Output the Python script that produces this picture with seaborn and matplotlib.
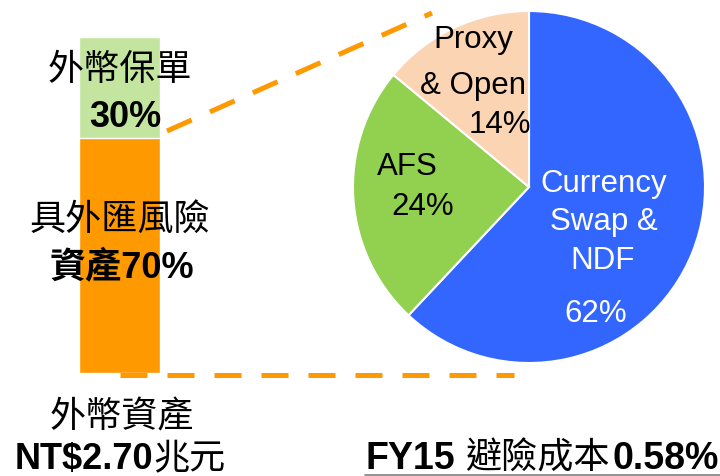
import matplotlib
matplotlib.use('Agg')
import matplotlib.pyplot as plt
import numpy as np
import seaborn as sns

# 資料
bar_category = ['外幣資產']
bar_parts = ['具外匯風險資產', '外幣保單']
bar_shares = [70, 30]
bar_colors = ['#FF9900', '#C3E59F']

pie_parts = ['Currency Swap & NDF', 'AFS', 'Proxy & Open']
pie_shares = [62, 24, 14]
pie_colors = ['#3366FF', '#92D050', '#FBD4B4']

W, H = 720, 477
FAMILY = ['Liberation Sans', 'Noto Sans CJK TC', 'DejaVu Sans']


def put(fig, x, y, s, size=26, weight='normal', color='black', ha='center'):
    # 以像素座標放置文字（y 為基線）
    fig.text(x / W, 1 - y / H, s, fontsize=size, fontweight=weight,
             color=color, ha=ha, va='baseline', family=FAMILY)


def draw_bar(fig):
    ax = fig.add_axes([68.9 / W, (H - 373.5) / H, 101.25 / W, 335.5 / H])
    tops = np.cumsum(bar_shares)
    # 由上往下疊，先畫總高度
    for top, color in list(zip(tops, bar_colors))[::-1]:
        sns.barplot(x=bar_category, y=[top], color=color, saturation=1,
                    width=0.8, edgecolor='white', linewidth=1, ax=ax)
    ax.set_xlim(-0.5, 0.5)
    ax.set_ylim(0, tops[-1])
    ax.axis('off')
    return ax


def draw_pie(fig):
    ax = fig.add_axes([353 / W, (H - 364) / H, 352 / W, 352 / H])
    ax.pie(pie_shares, colors=pie_colors, startangle=90, counterclock=False,
           wedgeprops={'edgecolor': 'white', 'linewidth': 1.5})
    ax.set_xlim(-1, 1)
    ax.set_ylim(-1, 1)
    ax.axis('off')
    return ax


def main():
    sns.set_theme(style='white')
    plt.rcParams['font.family'] = FAMILY
    fig = plt.figure(figsize=(W / 100, H / 100), dpi=100)

    # 背景層：虛線連接線
    bg = fig.add_axes([0, 0, 1, 1])
    bg.set_xlim(0, W)
    bg.set_ylim(H, 0)
    bg.axis('off')
    dash = dict(color='#FF9900', lw=3.6, dashes=(5.4, 4), solid_capstyle='butt',
                dash_capstyle='butt')
    bg.plot([167, 432], [132, 14], **dash)
    bg.plot([120, 514], [376, 376], **dash)
    bg.plot([365, 720], [476, 476], color='#808080', lw=1.2)

    draw_bar(fig)
    draw_pie(fig)

    # 長條圖標籤
    put(fig, 120, 80, '外幣保單')
    put(fig, 125, 127, f'{bar_shares[1]}%', weight='bold')
    put(fig, 120, 230, '具外匯風險')
    put(fig, 122, 278, f'資產{bar_shares[0]}%', weight='bold')
    put(fig, 122, 427, '外幣資產')
    put(fig, 153, 469, 'NT$2.70', weight='bold', ha='right')
    put(fig, 153, 469, '兆元', ha='left')

    # 圓餅圖標籤
    put(fig, 604, 192, 'Currency', size=22.5, color='white')
    put(fig, 604, 230, 'Swap &', size=22.5, color='white')
    put(fig, 603, 269, 'NDF', size=22.5, color='white')
    put(fig, 596, 322, f'{pie_shares[0]}%', size=22.5, color='white')
    put(fig, 407, 175, 'AFS', size=22.5)
    put(fig, 423, 215, f'{pie_shares[1]}%', size=22.5)
    put(fig, 473, 48, 'Proxy', size=22.5)
    put(fig, 473, 94, '& Open', size=22.5)
    put(fig, 500, 133, f'{pie_shares[2]}%', size=22.5)

    # 標題
    put(fig, 365, 469, 'FY15', size=27, weight='bold', ha='left')
    put(fig, 465, 469, '避險成本', ha='left')
    put(fig, 612, 469, '0.58%', size=27, weight='bold', ha='left')

    fig.savefig('out.png', dpi=100)


if __name__ == "__main__":
    main()
